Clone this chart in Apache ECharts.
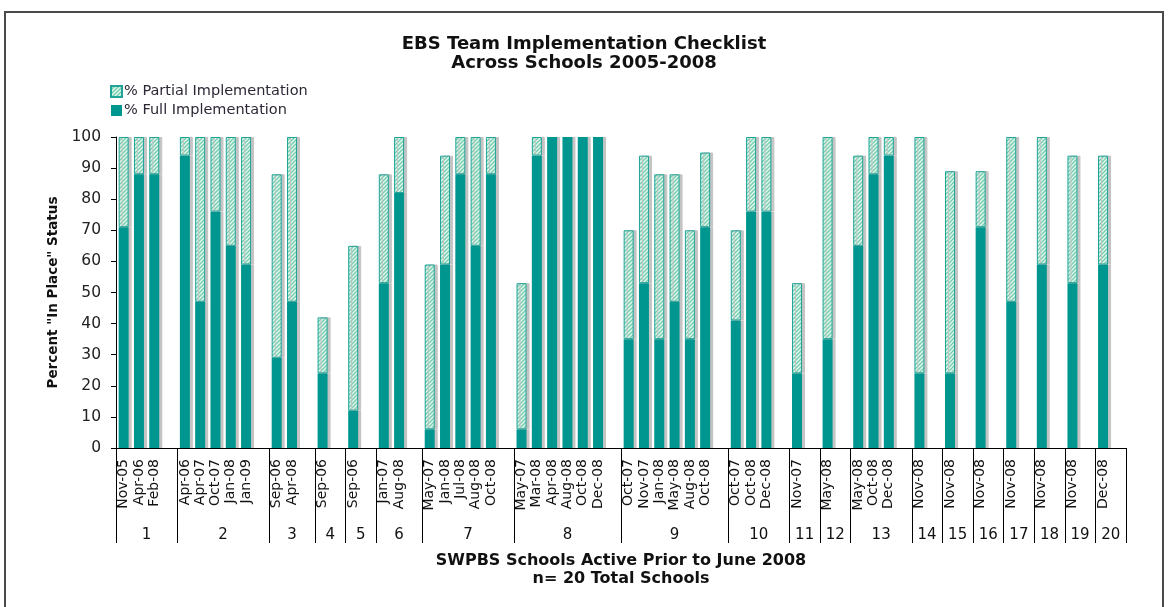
<!DOCTYPE html>
<html>
<head>
<meta charset="utf-8">
<title>EBS Team Implementation Checklist</title>
<script src="https://cdn.jsdelivr.net/npm/echarts@6/dist/echarts.min.js"></script>
<style>
    html, body {
        margin: 0;
        padding: 0;
        background: #fff;
        overflow: hidden;
    }
    #main {
        width: 1168px;
        height: 607px;
    }
    .frame {
        position: absolute;
        left: 4px;
        top: 11px;
        width: 1160px;
        height: 640px;
        border: 2px solid #4a4a4a;
        box-sizing: border-box;
        pointer-events: none;
    }
</style>
</head>
<body>
<div id="main"></div>
<div class="frame"></div>
<script>
// schools along the bottom, one group each
const schools = ['1', '2', '3', '4', '5', '6', '7', '8', '9', '10',
    '11', '12', '13', '14', '15', '16', '17', '18', '19', '20']

// checklist dates per school
const visitDates = [
    ['Nov-05', 'Apr-06', 'Feb-08'],
    ['Apr-06', 'Apr-07', 'Oct-07', 'Jan-08', 'Jan-09'],
    ['Sep-06', 'Apr-08'],
    ['Sep-06'],
    ['Sep-06'],
    ['Jan-07', 'Aug-08'],
    ['May-07', 'Jan-08', 'Jul-08', 'Aug-08', 'Oct-08'],
    ['May-07', 'Mar-08', 'Apr-08', 'Aug-08', 'Oct-08', 'Dec-08'],
    ['Oct-07', 'Nov-07', 'Jan-08', 'May-08', 'Aug-08', 'Oct-08'],
    ['Oct-07', 'Oct-08', 'Dec-08'],
    ['Nov-07'],
    ['May-08'],
    ['May-08', 'Oct-08', 'Dec-08'],
    ['Nov-08'],
    ['Nov-08'],
    ['Nov-08'],
    ['Nov-08'],
    ['Nov-08'],
    ['Nov-08'],
    ['Dec-08']
]

// % full implementation
const fullPct = [
    [71, 88, 88],
    [94, 47, 76, 65, 59],
    [29, 47],
    [24],
    [12],
    [53, 82],
    [6, 59, 88, 65, 88],
    [6, 94, 100, 100, 100, 100],
    [35, 53, 35, 47, 35, 71],
    [41, 76, 76],
    [24],
    [35],
    [65, 88, 94],
    [24],
    [24],
    [71],
    [47],
    [59],
    [53],
    [59]
]

// % partial implementation (stacked on top)
const partialPct = [
    [29, 12, 12],
    [6, 53, 24, 35, 41],
    [59, 53],
    [18],
    [53],
    [35, 18],
    [53, 35, 12, 35, 12],
    [47, 6, 0, 0, 0, 0],
    [35, 41, 53, 41, 35, 24],
    [29, 24, 24],
    [29],
    [65],
    [29, 12, 6],
    [76],
    [65],
    [18],
    [53],
    [41],
    [41],
    [35]
]

// one slot per date plus an empty slot after every school
const slots = []
const fullData = []
const partialData = []
const groupEdges = [0]
const groupMids = []
visitDates.forEach((dates, i) => {
    dates.forEach((d, j) => {
        slots.push(d)
        fullData.push(fullPct[i][j])
        partialData.push(partialPct[i][j] ? partialPct[i][j] : '-')
    })
    slots.push('')
    fullData.push('-')
    partialData.push('-')
    groupMids.push((groupEdges[i] + slots.length) / 2)
    groupEdges.push(slots.length)
})

// hatched fill for the partial part
function stripes () {
    const c = document.createElement('canvas')
    c.width = 4
    c.height = 4
    const g = c.getContext('2d')
    g.fillStyle = '#e4f6ee'
    g.fillRect(0, 0, 4, 4)
    g.strokeStyle = '#72cfb0'
    g.lineWidth = 1.4
    g.beginPath()
    g.moveTo(0, 4); g.lineTo(4, 0)
    g.moveTo(-1, 1); g.lineTo(1, -1)
    g.moveTo(3, 5); g.lineTo(5, 3)
    g.stroke()
    return c
}

const font = 'DejaVu Sans, Verdana, sans-serif'
const chart = echarts.init(document.getElementById('main'))
chart.setOption({
    animation: false,
    textStyle: { fontFamily: font },
    title: {
        text: 'EBS Team Implementation Checklist\nAcross Schools 2005-2008',
        left: 'center',
        top: 30,
        textStyle: {
            fontFamily: font,
            fontSize: 18,
            fontWeight: 'bold',
            lineHeight: 19,
            color: '#111'
        }
    },
    legend: {
        orient: 'vertical',
        left: 105,
        top: 79,
        itemWidth: 11,
        itemHeight: 11,
        itemGap: 4,
        icon: 'rect',
        data: ['% Partial Implementation', '% Full Implementation'],
        textStyle: { fontFamily: font, fontSize: 14.5, color: '#2e2836', padding: [0, 0, 0, -3] }
    },
    grid: {
        left: 116,
        right: 42,
        top: 137,
        bottom: 159,
        outerBoundsMode: 'none'
    },
    xAxis: [
        {
            type: 'category',
            position: 'bottom',
            data: slots,
            axisLine: { lineStyle: { color: '#000', width: 1 } },
            axisTick: { interval: 0, length: 64, lineStyle: { color: '#000' } },
            axisLabel: {
                interval: 0,
                rotate: 90,
                margin: 11,
                fontSize: 14,
                color: '#111'
            },
            splitLine: { show: false }
        },
        {
            type: 'value',
            position: 'bottom',
            min: 0,
            max: slots.length,
            axisLine: { show: false },
            axisTick: {
                show: true,
                length: 95,
                customValues: groupEdges,
                lineStyle: { color: '#000' }
            },
            axisLabel: {
                margin: 80,
                fontSize: 15,
                color: '#111',
                customValues: groupMids,
                formatter: (v) => schools[groupMids.indexOf(v)]
            },
            splitLine: { show: false },
            name: 'SWPBS Schools Active Prior to June 2008\nn= 20 Total Schools',
            nameLocation: 'middle',
            nameGap: 104,
            nameTextStyle: {
                fontFamily: font,
                fontSize: 16,
                fontWeight: 'bold',
                lineHeight: 18,
                color: '#111'
            }
        }
    ],
    yAxis: {
        type: 'value',
        min: 0,
        max: 100,
        interval: 10,
        axisLine: { show: true, lineStyle: { color: '#000' } },
        axisTick: { show: true, length: 5, lineStyle: { color: '#000' } },
        axisLabel: { margin: 15, fontSize: 15.5, color: '#222' },
        splitLine: { show: false },
        name: 'Percent "In Place" Status',
        nameLocation: 'middle',
        nameGap: 54,
        nameTextStyle: { fontFamily: font, fontSize: 13.5, fontWeight: 'bold', color: '#111' }
    },
    series: [
        {
            name: '% Full Implementation',
            type: 'bar',
            stack: 'pct',
            barWidth: 10,
            z: 3,
            data: fullData,
            itemStyle: {
                color: '#009690',
                shadowColor: '#c4c4c4',
                shadowOffsetX: 3,
                shadowOffsetY: 0,
                shadowBlur: 0
            }
        },
        {
            name: '% Partial Implementation',
            type: 'bar',
            stack: 'pct',
            barWidth: 10,
            z: 2,
            data: partialData,
            itemStyle: {
                color: { image: stripes(), repeat: 'repeat' },
                borderColor: '#1fa497',
                borderWidth: 1,
                shadowColor: '#c4c4c4',
                shadowOffsetX: 3,
                shadowOffsetY: 0,
                shadowBlur: 0
            }
        }
    ]
})
</script>
</body>
</html>
